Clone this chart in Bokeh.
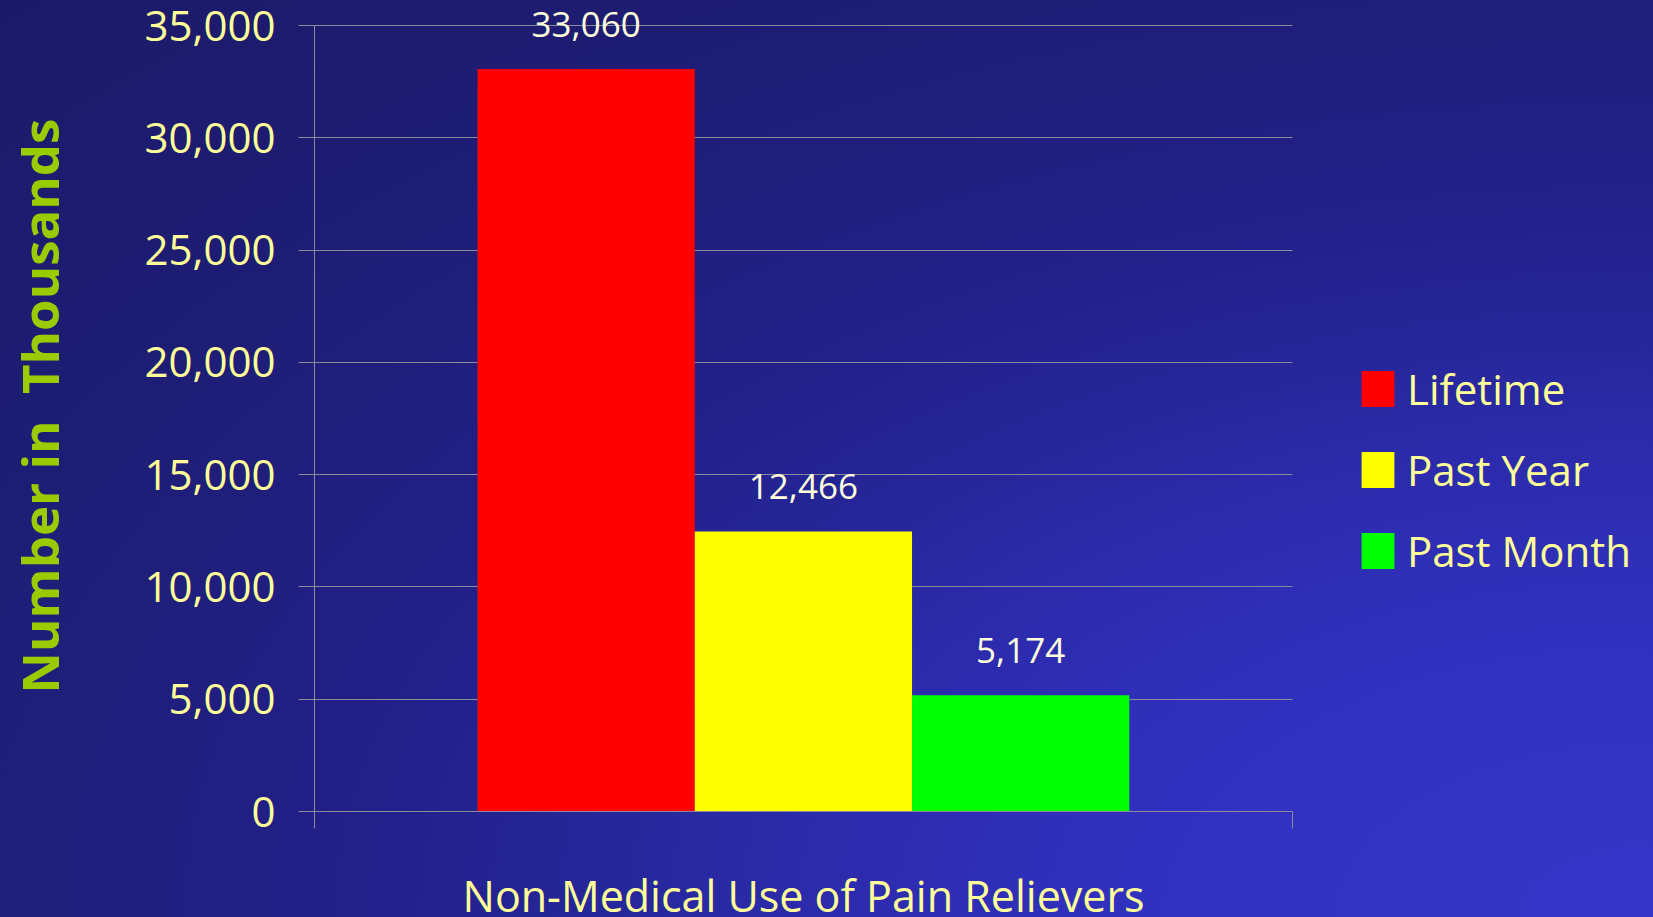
from bokeh.plotting import figure
from bokeh.models import (ColumnDataSource, Range1d, FixedTicker, NumeralTickFormatter,
                          Legend, LegendItem, LabelSet, Title)
from bokeh.core.properties import value
from bokeh.embed import file_html
from bokeh.resources import INLINE

# ---- data ----
category = "Non-Medical Use of Pain Relievers"
series = ["Lifetime", "Past Year", "Past Month"]
values = [33060, 12466, 5174]
colors = ["#ff0000", "#ffff00", "#00ff00"]
y_ticks = [0, 5000, 10000, 15000, 20000, 25000, 30000, 35000]
y_max = 35000

W, H = 1653, 917
FL, FR_PLOT, FB, FT_PLOT = 311, 1291, 811, 25
BOTTOM = 170
x_hi = (W - FL) / (FR_PLOT - FL)
y_hi = y_max * FB / (FB - FT_PLOT)

bar_w = 0.2222
xs = [0.5 + (i - 1) * bar_w for i in range(len(series))]
src = ColumnDataSource(dict(x=xs, top=values, series=series, color=colors,
                            lab=[f"{v:,}" for v in values]))

FONT = "Open Sans"
PALE = "#ffff99"
GRID = "#8a8a9a"

p = figure(width=W, height=FB + BOTTOM, output_backend="svg", toolbar_location=None,
           x_range=Range1d(0, x_hi), y_range=Range1d(0, y_hi),
           min_border_left=FL, min_border_right=0, min_border_top=0,
           min_border_bottom=BOTTOM)
p.background_fill_alpha = 0
p.border_fill_alpha = 0
p.outline_line_color = None
p.styles = {
    "position": "fixed",
    "left": "0px",
    "top": "0px",
    "background-image": "radial-gradient(farthest-corner at 100% 100%, #3535c8 0%, #3131c0 22%, "
                        "#2c2bac 36%, #27279c 44%, #22208a 55%, #1f1e7a 70%, #1b1a68 100%)",
    "background-size": f"{W}px {H}px",
    "background-repeat": "no-repeat",
    "background-color": "#3333c6",
}

r = p.vbar(x="x", top="top", width=bar_w, color="color", source=src, line_color=None)

labels = LabelSet(x="x", y="top", text="lab", source=src, y_offset=45,
                  text_align="center", text_baseline="middle",
                  text_font=value(FONT), text_font_size="35px", text_color="#ffffdd")
p.add_layout(labels)

# y axis
ya = p.yaxis[0]
ya.bounds = (0, y_max)
ya.ticker = FixedTicker(ticks=y_ticks)
ya.formatter = NumeralTickFormatter(format="0,0")
ya.major_tick_out = 16
ya.major_tick_in = 0
ya.minor_tick_out = 0
ya.minor_tick_in = 0
ya.major_tick_line_color = GRID
ya.axis_line_color = GRID
ya.major_label_standoff = 23
ya.major_label_text_font = FONT
ya.major_label_text_font_size = "42px"
ya.major_label_text_color = PALE
ya.axis_label = "Number in\u00a0 Thousands"
ya.axis_label_text_font = FONT
ya.axis_label_text_font_style = "bold"
ya.axis_label_text_font_size = "51px"
ya.axis_label_text_color = "#99cc00"
ya.axis_label_standoff = 68

# x axis
xa = p.xaxis[0]
xa.bounds = (0, 1)
xa.ticker = FixedTicker(ticks=[0, 1])
xa.major_label_overrides = {0: "", 1: ""}
xa.major_label_text_font_size = "0px"
xa.major_label_standoff = 0
xa.major_tick_out = 17
xa.major_tick_in = 0
xa.minor_tick_out = 0
xa.minor_tick_in = 0
xa.major_tick_line_color = GRID
xa.axis_line_color = GRID

cat_title = Title(text=category, align="left", offset=148, standoff=70,
                  text_font=FONT, text_font_size="43px", text_font_style="normal",
                  text_color=PALE)
p.add_layout(cat_title, "below")

p.xgrid.grid_line_color = None
p.ygrid.ticker = FixedTicker(ticks=y_ticks)
p.ygrid.grid_line_color = GRID
p.ygrid.cross_bounds = (0, 1)

legend = Legend(items=[LegendItem(label=s, renderers=[r], index=i) for i, s in enumerate(series)],
                location=(1043, 232))
legend.label_text_font = FONT
legend.label_text_font_size = "42px"
legend.label_text_color = PALE
legend.glyph_width = 41
legend.glyph_height = 45
legend.label_standoff = 9
legend.spacing = 24
legend.padding = 0
legend.margin = 0
legend.border_line_alpha = 0
legend.background_fill_alpha = 0
p.add_layout(legend, "center")

open("out.html", "w").write(file_html(p, INLINE))
